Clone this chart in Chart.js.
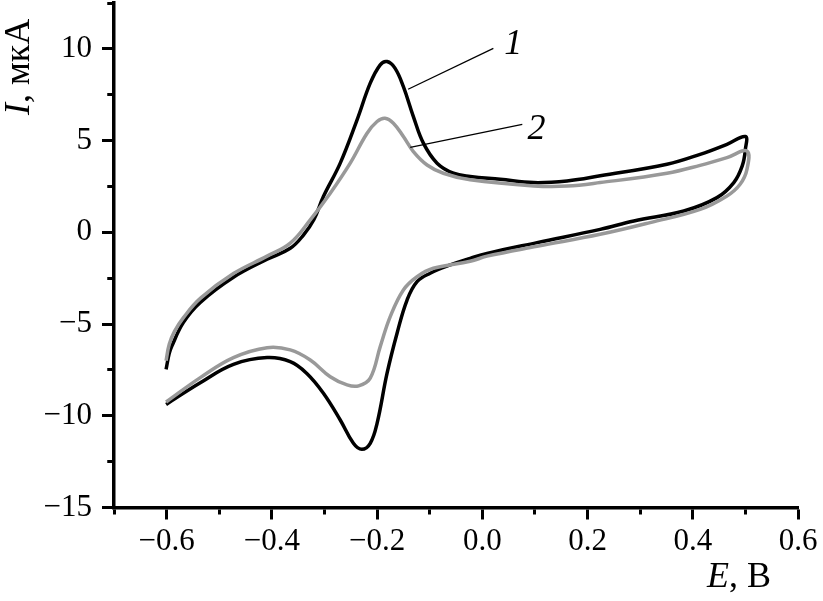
<!DOCTYPE html>
<html><head><meta charset="utf-8">
<script src="https://cdn.jsdelivr.net/npm/chart.js@4.4.1/dist/chart.umd.min.js"></script>
<style>html,body{margin:0;padding:0;background:#fff;}#wrap{width:823px;height:601px;}</style>
</head><body><div id="wrap"><canvas id="c" width="823" height="601"></canvas></div>
<script>
// ---- data (E in V, I in µA) ----
const curve1E = [-0.601,-0.595,-0.590,-0.568,-0.536,-0.473,-0.409,-0.365,-0.340,-0.320,-0.302,-0.270,-0.238,-0.213,-0.194,-0.181,-0.166,-0.150,-0.131,-0.112,-0.086,-0.055,-0.023,0.034,0.098,0.161,0.224,0.351,0.414,0.465,0.500,
  0.500,0.494,0.478,0.446,0.383,0.288,0.224,0.104,0.009,-0.023,-0.061,-0.099,-0.124,-0.143,-0.162,-0.181,-0.200,-0.213,-0.229,-0.245,-0.270,-0.302,-0.334,-0.365,-0.409,-0.473,-0.536,-0.601];
const curve1I = [-7.47,-6.6,-6.20,-4.91,-3.82,-2.45,-1.47,-0.87,-0.15,0.7,1.95,3.77,6.13,8.13,9.13,9.31,8.95,7.94,6.31,4.86,3.77,3.22,3.04,2.89,2.71,2.80,3.08,3.71,4.25,4.80,5.22,
  4.53,3.62,2.71,1.89,1.16,0.62,0.16,-0.56,-1.15,-1.42,-1.78,-2.23,-2.69,-3.69,-5.5,-7.68,-10.41,-11.5,-11.83,-11.5,-10.23,-8.77,-7.68,-7.05,-6.83,-7.2,-8.2,-9.38];
const curve2E = [-0.601,-0.595,-0.585,-0.568,-0.536,-0.473,-0.409,-0.365,-0.327,-0.289,-0.251,-0.219,-0.200,-0.185,-0.169,-0.150,-0.131,-0.105,-0.074,-0.023,0.098,0.161,0.224,0.351,0.414,0.465,0.503,
  0.503,0.490,0.465,0.414,0.319,0.224,0.104,0.009,-0.023,-0.093,-0.124,-0.150,-0.175,-0.194,-0.213,-0.235,-0.257,-0.289,-0.327,-0.365,-0.409,-0.473,-0.536,-0.601];
const curve2I = [-7.0,-6.1,-5.4,-4.65,-3.6,-2.25,-1.3,-0.59,0.68,2.13,3.77,5.40,6.04,6.22,5.95,5.22,4.40,3.67,3.22,2.86,2.53,2.52,2.71,3.22,3.65,4.07,4.43,
  3.43,2.62,1.98,1.25,0.53,-0.11,-0.76,-1.3,-1.58,-1.96,-2.42,-3.14,-4.6,-6.23,-7.95,-8.37,-8.32,-7.87,-6.96,-6.41,-6.29,-6.83,-7.92,-9.25];
const curveNames = ['1','2'];

// ---- axes ticks ----
const xMajorTicks = [-0.6,-0.4,-0.2,0.0,0.2,0.4,0.6];
const xMinorTicks = [-0.7,-0.5,-0.3,-0.1,0.1,0.3,0.5];
const yMajorTicks = [-15,-10,-5,0,5,10];
const yMinorTicks = [-12.5,-7.5,-2.5,2.5,7.5,12.5];
const xTitleParts = ['E', ', В'];
const yTitleParts = ['I', ', мкА'];

const pts = (xs, ys) => xs.map((x, i) => ({x, y: ys[i]}));
const isIn = (arr, v) => arr.some(a => Math.abs(a - v) < 1e-6);
const fmt = (v, d) => { const s = Math.abs(v).toFixed(d); return (v < -1e-9 ? '\u2212' : '') + s; };
const SERIF = "'Liberation Serif', 'Times New Roman', serif";

const annotPlugin = {
  id: 'annot',
  afterDraw(chart) {
    const ctx = chart.ctx, xs = chart.scales.x, ys = chart.scales.y;
    const P = (x, y) => [xs.getPixelForValue(x), ys.getPixelForValue(y)];
    ctx.save();
    const leaders = [[0.021, 10.03, -0.141, 7.80], [0.076, 5.89, -0.137, 4.63]];
    ctx.strokeStyle = '#000'; ctx.lineWidth = 1.3;
    leaders.forEach(l => {
      const a = P(l[0], l[1]), b = P(l[2], l[3]);
      ctx.beginPath(); ctx.moveTo(a[0], a[1]); ctx.lineTo(b[0], b[1]); ctx.stroke();
    });
    const labelPos = [[0.059, 9.7], [0.103, 5.07]];
    ctx.fillStyle = '#000'; ctx.font = "italic 36px " + SERIF;
    ctx.textAlign = 'center'; ctx.textBaseline = 'alphabetic';
    labelPos.forEach((p, i) => { const q = P(p[0], p[1]); ctx.fillText(curveNames[i], q[0], q[1]); });
    ctx.textAlign = 'left';
    ctx.font = "italic 36px " + SERIF;
    let x0 = 707; ctx.fillText(xTitleParts[0], x0, 587);
    x0 += ctx.measureText(xTitleParts[0]).width;
    ctx.font = "36px " + SERIF; ctx.fillText(xTitleParts[1], x0, 587);
    ctx.translate(29, 115); ctx.rotate(-Math.PI / 2);
    ctx.font = "italic 36px " + SERIF;
    ctx.fillText(yTitleParts[0], 0, 0);
    const w = ctx.measureText(yTitleParts[0]).width;
    ctx.font = "36px " + SERIF; ctx.fillText(yTitleParts[1], w, 0);
    ctx.restore();
  }
};

const TL = 12, BW = 3.5, MINOR = 5;
new Chart(document.getElementById('c'), {
  type: 'scatter',
  data: {
    datasets: [
      {label: curveNames[1], data: pts(curve2E, curve2I), showLine: true, borderColor: '#999999', borderWidth: 3.5, pointRadius: 0, tension: 0.4, order: 0},
      {label: curveNames[0], data: pts(curve1E, curve1I), showLine: true, borderColor: '#000000', borderWidth: 3.5, pointRadius: 0, tension: 0.4, order: 1}
    ]
  },
  options: {
    responsive: false, animation: false, devicePixelRatio: 1,
    layout: {padding: {top: 3, right: 25, left: 0, bottom: 0}},
    plugins: {legend: {display: false}, tooltip: {enabled: false}},
    scales: {
      x: {
        type: 'linear', min: -0.7, max: 0.6,
        afterBuildTicks: s => { s.ticks = xMajorTicks.concat(xMinorTicks).sort((a, b) => a - b).map(v => ({value: v})); },
        afterFit: s => { s.height = 93.5; s.paddingLeft = 0; s.paddingRight = 0; },
        border: {display: true, color: '#000', width: BW},
        grid: {drawOnChartArea: false, drawTicks: true, tickLength: TL, tickWidth: 3, tickColor: '#000',
          tickBorderDash: c => isIn(xMajorTicks, c.tick.value) ? [] : [MINOR, 100]},
        ticks: {autoSkip: false, maxRotation: 0, color: '#000', padding: 4, font: {family: SERIF, size: 31},
          callback: v => isIn(xMajorTicks, v) ? fmt(v, 1) : ''}
      },
      y: {
        type: 'linear', min: -15, max: 12.5,
        afterBuildTicks: s => { s.ticks = yMajorTicks.concat(yMinorTicks).sort((a, b) => a - b).map(v => ({value: v})); },
        afterFit: s => { s.width = 114; s.paddingTop = 0; s.paddingBottom = 0; },
        border: {display: true, color: '#000', width: BW},
        grid: {drawOnChartArea: false, drawTicks: true, tickLength: TL, tickWidth: 3, tickColor: '#000',
          tickBorderDash: c => isIn(yMajorTicks, c.tick.value) ? [] : [MINOR, 100],
          tickBorderDashOffset: c => isIn(yMajorTicks, c.tick.value) ? 0 : -(TL - BW / 2 - MINOR)},
        ticks: {autoSkip: false, color: '#000', padding: 10, font: {family: SERIF, size: 31},
          callback: v => isIn(yMajorTicks, v) ? fmt(v, 0) : ''}
      }
    }
  },
  plugins: [annotPlugin]
});
</script></body></html>
